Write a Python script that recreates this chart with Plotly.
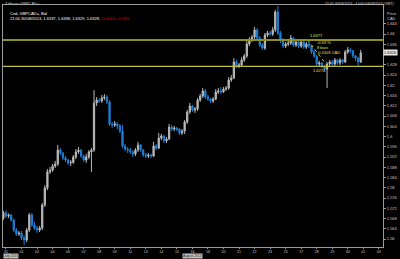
import plotly.graph_objects as go

# ---- data: 4-hour GBP/CAD bars (bar -1 = last bar of 30 Jul) ----
opens = [
1.5682, 1.5702, 1.5690, 1.5693, 1.5674, 1.5635, 1.5620, 1.5623, 1.5604, 1.5596,
1.5635, 1.5694, 1.5655, 1.5643, 1.5635, 1.5643, 1.5733, 1.5799, 1.5862, 1.5869,
1.5885, 1.5893, 1.5947, 1.5936, 1.5916, 1.5908, 1.5897, 1.5899, 1.5920, 1.5940,
1.5947, 1.5924, 1.5908, 1.5920, 1.5940, 1.5947, 1.6131, 1.6142, 1.6139, 1.6150,
1.6154, 1.6135, 1.6049, 1.6045, 1.6049, 1.6041, 1.6021, 1.5963, 1.5951, 1.5947,
1.5940, 1.5932, 1.5947, 1.5967, 1.5947, 1.5928, 1.5924, 1.5928, 1.5924, 1.5963,
1.5955, 1.5994, 1.6002, 1.5983, 1.5990, 1.6037, 1.6029, 1.6033, 1.6029, 1.6014,
1.6021, 1.6057, 1.6096, 1.6119, 1.6103, 1.6107, 1.6142, 1.6158, 1.6178, 1.6154,
1.6146, 1.6139, 1.6146, 1.6174, 1.6178, 1.6174, 1.6185, 1.6189, 1.6221, 1.6228,
1.6291, 1.6275, 1.6279, 1.6299, 1.6314, 1.6361, 1.6377, 1.6388, 1.6416, 1.6384,
1.6357, 1.6345, 1.6396, 1.6404, 1.6400, 1.6416, 1.6486, 1.6404, 1.6377, 1.6353,
1.6361, 1.6365, 1.6384, 1.6357, 1.6369, 1.6353, 1.6369, 1.6349, 1.6361, 1.6353,
1.6330, 1.6314, 1.6283, 1.6287, 1.6275, 1.6263, 1.6283, 1.6291, 1.6283, 1.6299,
1.6287, 1.6299, 1.6291, 1.6330, 1.6338, 1.6335, 1.6314, 1.6306, 1.6291]

highs = [
1.5710, 1.5712, 1.5700, 1.5698, 1.5680, 1.5643, 1.5631, 1.5631, 1.5612, 1.5643,
1.5702, 1.5702, 1.5667, 1.5651, 1.5651, 1.5741, 1.5810, 1.5873, 1.5881, 1.5893,
1.5905, 1.5967, 1.5955, 1.5940, 1.5924, 1.5912, 1.5908, 1.5928, 1.5951, 1.5959,
1.5951, 1.5928, 1.5932, 1.5947, 1.5955, 1.6181, 1.6154, 1.6150, 1.6162, 1.6166,
1.6162, 1.6142, 1.6057, 1.6061, 1.6057, 1.6049, 1.6045, 1.5971, 1.5959, 1.5955,
1.5947, 1.5955, 1.5979, 1.5971, 1.5951, 1.5936, 1.5936, 1.5932, 1.5979, 1.5971,
1.6014, 1.6010, 1.6006, 1.5998, 1.6049, 1.6045, 1.6041, 1.6037, 1.6033, 1.6029,
1.6064, 1.6103, 1.6131, 1.6123, 1.6115, 1.6150, 1.6166, 1.6189, 1.6185, 1.6162,
1.6150, 1.6154, 1.6185, 1.6189, 1.6193, 1.6193, 1.6197, 1.6232, 1.6240, 1.6306,
1.6299, 1.6287, 1.6310, 1.6322, 1.6377, 1.6388, 1.6396, 1.6427, 1.6423, 1.6392,
1.6365, 1.6404, 1.6412, 1.6412, 1.6427, 1.6494, 1.6509, 1.6412, 1.6384, 1.6369,
1.6373, 1.6396, 1.6388, 1.6377, 1.6377, 1.6380, 1.6377, 1.6369, 1.6369, 1.6357,
1.6338, 1.6318, 1.6295, 1.6291, 1.6279, 1.6291, 1.6299, 1.6299, 1.6306, 1.6303,
1.6306, 1.6303, 1.6338, 1.6349, 1.6345, 1.6338, 1.6318, 1.6310, 1.6338]

lows = [
1.5674, 1.5682, 1.5682, 1.5668, 1.5627, 1.5612, 1.5612, 1.5596, 1.5577, 1.5588,
1.5627, 1.5647, 1.5635, 1.5624, 1.5627, 1.5635, 1.5725, 1.5791, 1.5854, 1.5862,
1.5877, 1.5885, 1.5928, 1.5908, 1.5901, 1.5889, 1.5885, 1.5893, 1.5912, 1.5932,
1.5916, 1.5901, 1.5897, 1.5912, 1.5862, 1.5940, 1.6119, 1.6131, 1.6131, 1.6142,
1.6127, 1.6041, 1.6033, 1.6037, 1.6029, 1.6014, 1.5955, 1.5943, 1.5936, 1.5932,
1.5920, 1.5924, 1.5940, 1.5940, 1.5920, 1.5916, 1.5916, 1.5916, 1.5920, 1.5947,
1.5951, 1.5986, 1.5975, 1.5975, 1.5986, 1.6021, 1.6021, 1.6021, 1.6006, 1.6006,
1.6010, 1.6049, 1.6088, 1.6096, 1.6092, 1.6100, 1.6135, 1.6150, 1.6146, 1.6139,
1.6131, 1.6131, 1.6142, 1.6166, 1.6166, 1.6170, 1.6178, 1.6182, 1.6213, 1.6224,
1.6267, 1.6267, 1.6275, 1.6291, 1.6306, 1.6353, 1.6369, 1.6380, 1.6377, 1.6349,
1.6338, 1.6338, 1.6388, 1.6392, 1.6392, 1.6408, 1.6396, 1.6365, 1.6345, 1.6345,
1.6353, 1.6357, 1.6349, 1.6349, 1.6345, 1.6345, 1.6342, 1.6342, 1.6345, 1.6322,
1.6306, 1.6275, 1.6275, 1.6267, 1.6256, 1.6189, 1.6275, 1.6275, 1.6275, 1.6279,
1.6279, 1.6283, 1.6287, 1.6322, 1.6326, 1.6306, 1.6295, 1.6271, 1.6287]

closes = [
1.5702, 1.5690, 1.5693, 1.5674, 1.5635, 1.5620, 1.5623, 1.5604, 1.5596, 1.5635,
1.5694, 1.5655, 1.5643, 1.5635, 1.5643, 1.5733, 1.5799, 1.5862, 1.5869, 1.5885,
1.5893, 1.5947, 1.5936, 1.5916, 1.5908, 1.5897, 1.5899, 1.5920, 1.5940, 1.5947,
1.5924, 1.5908, 1.5920, 1.5940, 1.5947, 1.6131, 1.6142, 1.6139, 1.6150, 1.6154,
1.6135, 1.6049, 1.6045, 1.6049, 1.6041, 1.6021, 1.5963, 1.5951, 1.5947, 1.5940,
1.5932, 1.5947, 1.5967, 1.5947, 1.5928, 1.5924, 1.5928, 1.5924, 1.5963, 1.5955,
1.5994, 1.6002, 1.5983, 1.5990, 1.6037, 1.6029, 1.6033, 1.6029, 1.6014, 1.6021,
1.6057, 1.6096, 1.6119, 1.6103, 1.6107, 1.6142, 1.6158, 1.6178, 1.6154, 1.6146,
1.6139, 1.6146, 1.6174, 1.6178, 1.6174, 1.6185, 1.6189, 1.6221, 1.6228, 1.6291,
1.6275, 1.6279, 1.6299, 1.6314, 1.6361, 1.6377, 1.6388, 1.6416, 1.6384, 1.6357,
1.6345, 1.6396, 1.6404, 1.6400, 1.6416, 1.6486, 1.6404, 1.6377, 1.6353, 1.6361,
1.6365, 1.6384, 1.6357, 1.6369, 1.6353, 1.6369, 1.6349, 1.6361, 1.6353, 1.6330,
1.6314, 1.6283, 1.6287, 1.6275, 1.6263, 1.6283, 1.6291, 1.6283, 1.6299, 1.6287,
1.6299, 1.6291, 1.6330, 1.6338, 1.6335, 1.6314, 1.6306, 1.6291, 1.6326]

day_labels = ["31", "01", "02", "04", "06", "07", "08", "09", "11", "13", "14", "15",
              "16", "18", "20", "21", "22", "23", "25", "27", "28", "29", "30", "01", "03"]
# 1.632 is hidden behind the last-price box in the reference
price_labels = ["1.56", "1.564", "1.568", "1.572", "1.576", "1.58", "1.584", "1.588",
                "1.592", "1.596", "1.6", "1.604", "1.608", "1.612", "1.616", "1.62",
                "1.624", "1.628", "1.636", "1.64", "1.644"]
level_lines = [1.6377, 1.6274]
measure_bars = [116.5, 124.2]
measure_prices = [1.6377, 1.6274]
measure_texts = ["-0.63 %", "8 bars", "-0.0103 CAD"]
month_labels = ["July 2013", "August 2013"]

BARS_PER_DAY = 6
bar_index = list(range(-1, len(closes) - 1))
day_ticks = [BARS_PER_DAY * k for k in range(len(day_labels))]
price_ticks = [float(s) for s in price_labels]

GREY = "#b8b8b8"
BLUE = "#1c7fd6"
AX = "#9a9a9a"
FONT = "Liberation Sans"

fig = go.Figure()
fig.add_trace(go.Candlestick(
    x=bar_index, open=opens, high=highs, low=lows, close=closes,
    increasing=dict(line=dict(color=GREY, width=1), fillcolor=GREY),
    decreasing=dict(line=dict(color=BLUE, width=1), fillcolor=BLUE),
    whiskerwidth=0, showlegend=False, hoverinfo="skip"))

# horizontal levels
fig.add_hline(y=level_lines[0], line=dict(color="#8f8f1c", width=2))
fig.add_hline(y=level_lines[1], line=dict(color="#bdbd4a", width=1.2))

# measurement tool
fig.add_trace(go.Scatter(x=measure_bars, y=measure_prices, mode="lines",
                         line=dict(color="#c8c850", width=1, dash="dot"),
                         showlegend=False, hoverinfo="skip"))
fig.add_annotation(x=measure_bars[0], y=measure_prices[0], text="%.4f" % measure_prices[0],
                   showarrow=False, xanchor="left", yanchor="bottom",
                   font=dict(size=4, color="#e0e060", family=FONT))
fig.add_annotation(x=measure_bars[0] + 3, y=(measure_prices[0] + measure_prices[1]) / 2 + 0.002,
                   text="<br>".join(measure_texts), showarrow=False, xanchor="left",
                   align="left", font=dict(size=4, color="#e0e060", family=FONT))
fig.add_annotation(x=measure_bars[1], y=measure_prices[1], text="%.4f" % measure_prices[1],
                   showarrow=False, xanchor="right", yanchor="top",
                   font=dict(size=4, color="#e0e060", family=FONT))

# last price box on the axis
fig.add_annotation(xref="paper", x=1.0, y=closes[-1], text="%.4f" % closes[-1],
                   showarrow=False, xanchor="left", bgcolor="#e8e8e8",
                   font=dict(size=4, color="#000000", family=FONT), borderpad=0)

# header texts
fig.add_annotation(xref="paper", yref="paper", x=0.0, y=1.0, yshift=6,
                   text="4 Hours GBPCAD=", showarrow=False, xanchor="left", yanchor="top",
                   font=dict(size=4, color="#c0c0c0", family=FONT))
fig.add_annotation(xref="paper", yref="paper", x=0.013, y=0.985,
                   text="Cnd, GBPCAD=, Bid<br>21:00 30/08/2013, 1.6337, 1.6338, 1.6329, 1.6328, "
                        "<span style='color:#e00000'>-0.0010, -0.06%</span>",
                   showarrow=False, xanchor="left", yanchor="top", align="left",
                   font=dict(size=4, color="#ffffff", family=FONT))
fig.add_annotation(xref="paper", yref="paper", x=1.0, y=1.0, xshift=13, yshift=5,
                   text="21:00 30/08/2013 - 4 h00 03/09/2013 (GMT)", showarrow=False,
                   xanchor="right", yanchor="top",
                   font=dict(size=3.5, color="#d0d0d0", family=FONT))
fig.add_annotation(xref="paper", yref="paper", x=1.0, y=0.985, xshift=2,
                   text="Price<br>CAD", showarrow=False, xanchor="left", yanchor="top",
                   align="left", font=dict(size=4, color="#d0d0d0", family=FONT))

# month labels (bottom strip)
for mx, mtxt in zip([0.0, 0.472], month_labels):
    fig.add_annotation(xref="paper", yref="paper", x=mx, y=0, yshift=-12,
                       text=mtxt, showarrow=False, xanchor="left", yanchor="bottom",
                       bgcolor="#c4c4c4", borderpad=0,
                       font=dict(size=3.3, color="#202020", family=FONT))

fig.update_layout(
    width=400, height=259,
    margin=dict(l=2, r=14, t=5, b=12),
    paper_bgcolor="#000000", plot_bgcolor="#000000",
    showlegend=False,
    xaxis=dict(range=[-1.15, 145.6], rangeslider=dict(visible=False),
               tickmode="array", tickvals=day_ticks, ticktext=day_labels,
               ticks="outside", ticklen=1, tickcolor=AX, tickwidth=1,
               tickfont=dict(size=3.6, color="#c8c8c8", family=FONT),
               showgrid=False, zeroline=False, showline=True, linecolor=AX,
               linewidth=1, mirror=True),
    yaxis=dict(range=[1.55688, 1.65132], side="right",
               tickmode="array", tickvals=price_ticks, ticktext=price_labels,
               ticks="outside", ticklen=2, tickcolor=AX, tickwidth=1,
               tickfont=dict(size=4, color="#c8c8c8", family=FONT),
               showgrid=False, zeroline=False, showline=True, linecolor=AX,
               linewidth=1, mirror=True),
)

fig.write_html("out.html")
